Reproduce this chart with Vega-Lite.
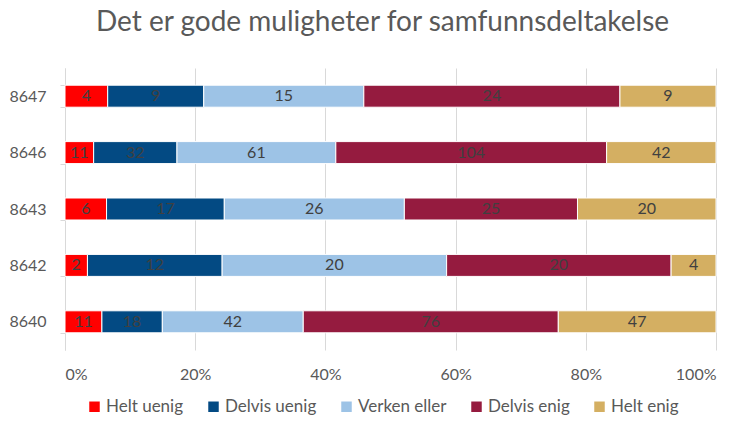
{
  "$schema": "https://vega.github.io/schema/vega-lite/v6.json",
  "width": 651,
  "height": 282,
  "autosize": {"type": "none"},
  "padding": {"left": 65, "top": 68, "right": 23, "bottom": 78},
  "background": "white",
  "config": {
    "font": "Lato",
    "view": {"stroke": null}
  },
  "title": {
    "text": "Det er gode muligheter for samfunnsdeltakelse",
    "fontSize": 28,
    "fontWeight": "normal",
    "color": "#595959",
    "anchor": "middle",
    "offset": 23,
    "dx": -8
  },
  "data": {
    "values": [
      {"enhet": "8647", "svar": "Helt uenig", "ord": 1, "antall": 4},
      {"enhet": "8647", "svar": "Delvis uenig", "ord": 2, "antall": 9},
      {"enhet": "8647", "svar": "Verken eller", "ord": 3, "antall": 15},
      {"enhet": "8647", "svar": "Delvis enig", "ord": 4, "antall": 24},
      {"enhet": "8647", "svar": "Helt enig", "ord": 5, "antall": 9},
      {"enhet": "8646", "svar": "Helt uenig", "ord": 1, "antall": 11},
      {"enhet": "8646", "svar": "Delvis uenig", "ord": 2, "antall": 32},
      {"enhet": "8646", "svar": "Verken eller", "ord": 3, "antall": 61},
      {"enhet": "8646", "svar": "Delvis enig", "ord": 4, "antall": 104},
      {"enhet": "8646", "svar": "Helt enig", "ord": 5, "antall": 42},
      {"enhet": "8643", "svar": "Helt uenig", "ord": 1, "antall": 6},
      {"enhet": "8643", "svar": "Delvis uenig", "ord": 2, "antall": 17},
      {"enhet": "8643", "svar": "Verken eller", "ord": 3, "antall": 26},
      {"enhet": "8643", "svar": "Delvis enig", "ord": 4, "antall": 25},
      {"enhet": "8643", "svar": "Helt enig", "ord": 5, "antall": 20},
      {"enhet": "8642", "svar": "Helt uenig", "ord": 1, "antall": 2},
      {"enhet": "8642", "svar": "Delvis uenig", "ord": 2, "antall": 12},
      {"enhet": "8642", "svar": "Verken eller", "ord": 3, "antall": 20},
      {"enhet": "8642", "svar": "Delvis enig", "ord": 4, "antall": 20},
      {"enhet": "8642", "svar": "Helt enig", "ord": 5, "antall": 4},
      {"enhet": "8640", "svar": "Helt uenig", "ord": 1, "antall": 11},
      {"enhet": "8640", "svar": "Delvis uenig", "ord": 2, "antall": 18},
      {"enhet": "8640", "svar": "Verken eller", "ord": 3, "antall": 42},
      {"enhet": "8640", "svar": "Delvis enig", "ord": 4, "antall": 76},
      {"enhet": "8640", "svar": "Helt enig", "ord": 5, "antall": 47}
    ]
  },
  "transform": [
    {"joinaggregate": [{"op": "sum", "field": "antall", "as": "total"}], "groupby": ["enhet"]},
    {"window": [{"op": "sum", "field": "antall", "as": "cum"}], "groupby": ["enhet"], "sort": [{"field": "ord", "order": "ascending"}], "frame": [null, 0]},
    {"calculate": "(datum.cum - datum.antall) / datum.total", "as": "start"},
    {"calculate": "datum.cum / datum.total", "as": "end"},
    {"calculate": "(datum.start + datum.end) / 2", "as": "mid"}
  ],
  "encoding": {
    "y": {
      "field": "enhet",
      "type": "nominal",
      "sort": ["8647", "8646", "8643", "8642", "8640"],
      "scale": {"paddingInner": 0.61, "paddingOuter": 0.305},
      "axis": {
        "title": null,
        "labelFontSize": 16,
        "labelColor": "#595959",
        "labelPadding": 14,
        "domainColor": "#d9d9d9",
        "tickColor": "#d9d9d9",
        "tickSize": 5,
        "tickBand": "extent",
        "grid": false
      }
    }
  },
  "layer": [
    {
      "mark": {"type": "bar", "stroke": "white", "strokeWidth": 1},
      "encoding": {
        "x": {
          "field": "start",
          "type": "quantitative",
          "scale": {"domain": [0, 1]},
          "axis": {
            "title": null,
            "format": ".0%",
            "values": [0, 0.2, 0.4, 0.6, 0.8, 1],
            "labelFontSize": 16,
            "labelColor": "#595959",
            "labelPadding": 16,
            "domain": false,
            "ticks": false,
            "grid": true,
            "gridColor": "#d9d9d9",
            "gridWidth": 1
          }
        },
        "x2": {"field": "end"},
        "color": {
          "field": "svar",
          "type": "nominal",
          "sort": ["Helt uenig", "Delvis uenig", "Verken eller", "Delvis enig", "Helt enig"],
          "scale": {
            "domain": ["Helt uenig", "Delvis uenig", "Verken eller", "Delvis enig", "Helt enig"],
            "range": ["#FF0000", "#034A83", "#9DC3E6", "#951B3F", "#D4AF62"]
          },
          "legend": {
            "title": null,
            "orient": "none",
            "legendX": 21,
            "legendY": 330,
            "direction": "horizontal",
            "symbolType": "square",
            "symbolSize": 110,
            "symbolStrokeWidth": 0,
            "labelFontSize": 17,
            "labelColor": "#595959",
            "columnPadding": 21,
            "labelOffset": 3
          }
        }
      }
    },
    {
      "mark": {"type": "text", "fontSize": 16, "color": "#404040", "baseline": "middle", "align": "center"},
      "encoding": {
        "x": {"field": "mid", "type": "quantitative"},
        "text": {"field": "antall", "type": "quantitative"}
      }
    }
  ]
}
